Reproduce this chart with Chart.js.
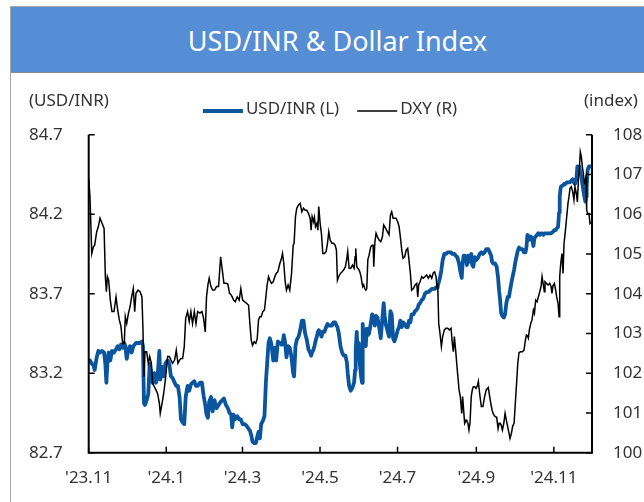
<!DOCTYPE html>
<html>
<head>
<meta charset="utf-8">
<script src="https://cdn.jsdelivr.net/npm/chart.js@4.4.1/dist/chart.umd.min.js"></script>
<style>
  html, body { margin: 0; padding: 0; background: #fff; }
  #frame { position: absolute; left: 10px; top: 6px; width: 634px; height: 496px; border-left: 1px solid #a6a6a6; border-top: 1px solid #a6a6a6; box-sizing: border-box; }
  #title { position: absolute; left: 11px; top: 7px; width: 633px; height: 66px; padding-left: 20px; box-sizing: border-box; background: #558ed5; border-bottom: 1px solid #8c8c8c; color: #fff; font: 27px "Noto Sans", sans-serif; text-align: center; line-height: 68px; }
  canvas { position: absolute; left: 0; top: 0; }
</style>
</head>
<body>
<div id="frame"></div>
<div id="title">USD/INR &amp; Dollar Index</div>
<canvas id="chart" width="644" height="502"></canvas>
<script>
// x positions are days counted from startDate
const startDate = '2023-11-01';
const endDate = '2024-12-01';
const tickDates = ['2023-11-01', '2024-01-01', '2024-03-01', '2024-05-01', '2024-07-01', '2024-09-01', '2024-11-01'];
const tickLabels = ["'23.11", "'24.1", "'24.3", "'24.5", "'24.7", "'24.9", "'24.11"];
const inrTicks = [82.7, 83.2, 83.7, 84.2, 84.7];

const dayOffset = [
  0, 1.0, 2.4, 3.7, 4.7, 6.3, 7.6, 8.9, 10.5, 12.1, 13.1, 13.9, 14.7, 15.7, 17.0, 18.3, 19.9, 21.5, 22.8, 24.1,
  25.4, 26.7, 28.0, 28.8, 29.9, 31.2, 32.5, 33.8, 35.1, 36.2, 37.2, 38.8, 40.4, 41.9, 42.7, 43.5, 44.3, 45.6, 46.9, 48.0,
  49.3, 50.3, 51.6, 52.9, 54.2, 55.6, 56.3, 57.7, 59.0, 60.3, 62.1, 63.4, 64.7, 66.0, 67.6, 68.9, 70.2, 71.5, 72.6, 73.9,
  75.2, 76.3, 77.8, 79.1, 80.4, 81.7, 83.1, 84.4, 85.7, 87.5, 89.1, 90.4, 91.7, 92.7, 93.8, 94.8, 96.2, 97.5, 99.0, 100.6,
  102.2, 103.8, 105.1, 106.4, 108.0, 109.5, 110.8, 112.1, 112.9, 114.0, 115.3, 116.9, 118.4, 119.7, 121.1, 122.6, 124.2, 125.8, 126.8, 127.9,
  128.9, 130.2, 131.5, 132.6, 133.6, 134.7, 135.7, 137.0, 138.3, 139.4, 140.4, 141.5, 142.5, 143.8, 145.2, 146.5, 147.5, 148.8, 150.4, 151.7,
  152.5, 153.5, 154.6, 155.6, 156.9, 158.2, 159.6, 160.9, 161.6, 162.7, 163.7, 165.1, 166.4, 167.7, 169.0, 170.3, 171.6, 172.9, 174.2, 175.0,
  175.8, 176.9, 177.6, 178.4, 179.5, 180.3, 181.0, 182.1, 183.1, 184.2, 185.5, 186.8, 187.9, 188.9, 190.0, 191.3, 192.6, 193.9, 194.9, 195.7,
  196.8, 198.1, 199.4, 200.7, 202.0, 203.1, 203.8, 204.9, 206.2, 207.5, 208.8, 209.6, 210.1, 210.9, 211.7, 212.5, 213.3, 214.3, 215.1, 215.6,
  216.4, 217.2, 218.0, 218.8, 219.6, 220.6, 221.9, 223.0, 223.8, 224.3, 225.1, 226.1, 227.2, 228.5, 229.8, 231.1, 232.1, 232.9, 233.7, 235.0,
  236.3, 237.4, 238.4, 239.5, 240.5, 241.8, 243.1, 244.2, 245.2, 246.3, 247.3, 248.6, 249.9, 251.0, 252.0, 253.1, 254.1, 255.5, 256.8, 258.1,
  258.9, 259.6, 260.7, 262.0, 263.3, 264.6, 265.9, 267.2, 268.6, 269.9, 271.2, 272.2, 273.3, 274.1, 274.6, 275.4, 276.4, 277.5, 278.5, 279.8,
  281.1, 282.4, 283.8, 285.1, 286.1, 286.9, 287.7, 288.7, 290.0, 291.4, 292.4, 293.5, 294.2, 295.0, 295.8, 296.9, 297.6, 298.4, 299.2, 300.0,
  301.0, 301.8, 302.6, 303.7, 304.7, 305.8, 306.6, 307.6, 308.9, 310.2, 311.5, 312.8, 314.4, 315.5, 316.6, 317.4, 318.4, 319.7, 321.0, 322.1,
  322.9, 323.7, 324.5, 325.5, 326.6, 327.6, 328.6, 329.7, 330.7, 331.5, 332.6, 333.6, 334.7, 335.5, 336.5, 337.6, 338.6, 339.9, 341.2, 342.5,
  343.6, 344.4, 345.2, 345.9, 346.7, 347.8, 348.8, 349.9, 350.7, 351.7, 352.8, 353.8, 354.9, 355.9, 356.7, 357.7, 358.5, 359.0, 360.1, 361.4,
  362.7, 363.8, 364.5, 365.3, 366.4, 367.4, 368.2, 369.3, 370.1, 370.6, 371.4, 372.4, 373.2, 374.0, 375.0, 376.1, 377.1, 377.9, 378.7, 379.7,
  380.8, 381.8, 382.6, 383.7, 384.5, 385.3, 386.0, 386.8, 387.6, 388.4, 389.2, 390.0, 390.8, 391.3, 391.8, 392.6, 393.6, 394.4, 395.2
];

const usdInr = [
  83.28, 83.28, 83.26, 83.25, 83.22, 83.30, 83.34, 83.33, 83.34, 83.33, 83.26, 83.14, 83.26, 83.33, 83.28, 83.34, 83.33, 83.35, 83.37, 83.35,
  83.38, 83.36, 83.39, 83.37, 83.29, 83.35, 83.37, 83.33, 83.37, 83.38, 83.39, 83.39, 83.39, 83.40, 83.37, 83.01, 83.00, 83.03, 83.07, 83.26,
  83.19, 83.14, 83.20, 83.14, 83.18, 83.34, 83.16, 83.24, 83.18, 83.26, 83.28, 83.26, 83.18, 83.17, 83.14, 83.12, 83.12, 83.05, 82.91, 82.89,
  82.88, 83.05, 83.12, 83.09, 83.13, 83.14, 83.15, 83.12, 83.12, 83.14, 83.14, 83.06, 83.00, 82.94, 82.92, 83.02, 83.05, 82.96, 83.03, 82.98,
  83.00, 83.02, 83.03, 83.04, 83.00, 82.98, 82.95, 82.94, 82.86, 82.94, 82.91, 82.93, 82.91, 82.91, 82.88, 82.88, 82.87, 82.85, 82.84, 82.81,
  82.77, 82.76, 82.76, 82.80, 82.83, 82.79, 82.88, 82.90, 82.93, 83.14, 83.26, 83.39, 83.42, 83.38, 83.28, 83.36, 83.28, 83.40, 83.39, 83.38,
  83.38, 83.44, 83.39, 83.30, 83.37, 83.36, 83.30, 83.20, 83.18, 83.37, 83.41, 83.43, 83.47, 83.53, 83.53, 83.45, 83.41, 83.35, 83.33, 83.31,
  83.33, 83.35, 83.37, 83.40, 83.43, 83.46, 83.47, 83.46, 83.43, 83.46, 83.46, 83.49, 83.51, 83.50, 83.50, 83.50, 83.52, 83.52, 83.50, 83.49,
  83.45, 83.37, 83.33, 83.31, 83.31, 83.27, 83.20, 83.12, 83.09, 83.11, 83.14, 83.22, 83.35, 83.46, 83.30, 83.39, 83.26, 83.18, 83.14, 83.51,
  83.39, 83.46, 83.37, 83.48, 83.44, 83.45, 83.51, 83.57, 83.56, 83.55, 83.50, 83.56, 83.55, 83.49, 83.42, 83.55, 83.64, 83.56, 83.51, 83.47,
  83.43, 83.59, 83.57, 83.42, 83.40, 83.43, 83.47, 83.49, 83.53, 83.49, 83.52, 83.51, 83.49, 83.49, 83.53, 83.52, 83.57, 83.57, 83.59, 83.60,
  83.61, 83.63, 83.64, 83.66, 83.67, 83.70, 83.71, 83.71, 83.72, 83.73, 83.73, 83.73, 83.74, 83.74, 83.75, 83.77, 83.80, 83.85, 83.91, 83.95,
  83.95, 83.96, 83.96, 83.96, 83.95, 83.95, 83.95, 83.94, 83.93, 83.89, 83.84, 83.80, 83.89, 83.94, 83.94, 83.92, 83.88, 83.94, 83.90, 83.93,
  83.95, 83.88, 83.87, 83.93, 83.91, 83.92, 83.93, 83.95, 83.96, 83.95, 83.96, 83.98, 83.98, 83.96, 83.94, 83.90, 83.89, 83.89, 83.87, 83.80,
  83.72, 83.66, 83.58, 83.56, 83.55, 83.57, 83.64, 83.68, 83.68, 83.72, 83.77, 83.81, 83.85, 83.89, 83.93, 83.97, 83.99, 83.98, 83.98, 83.96,
  83.96, 83.99, 84.07, 84.06, 84.04, 84.06, 84.05, 84.00, 84.05, 84.06, 84.07, 84.08, 84.07, 84.08, 84.08, 84.07, 84.08, 84.08, 84.08, 84.08,
  84.08, 84.08, 84.08, 84.09, 84.10, 84.10, 84.11, 84.12, 84.21, 84.31, 84.37, 84.38, 84.38, 84.39, 84.39, 84.40, 84.40, 84.40, 84.40, 84.41,
  84.42, 84.40, 84.39, 84.42, 84.50, 84.48, 84.50, 84.46, 84.44, 84.39, 84.35, 84.31, 84.28, 84.31, 84.37, 84.48, 84.50, 84.50, 84.50
];

const dxy = [
  106.90, 106.44, 105.01, 105.18, 105.22, 105.56, 105.69, 105.90, 105.77, 105.64, 104.43, 104.05, 104.43, 104.34, 103.84, 103.55, 103.55, 103.92, 103.59, 103.34,
  103.17, 102.75, 102.75, 103.42, 103.25, 103.50, 103.67, 103.92, 104.13, 103.55, 104.01, 104.09, 104.05, 103.92, 103.09, 101.91, 102.54, 102.54, 102.25, 102.42,
  102.25, 101.74, 101.66, 101.58, 101.49, 101.24, 100.99, 101.24, 101.49, 101.83, 102.42, 102.42, 102.33, 102.25, 102.33, 102.58, 102.25, 102.33, 102.37, 102.37,
  102.67, 103.38, 103.55, 103.30, 103.55, 103.25, 103.55, 103.25, 103.55, 103.51, 103.55, 103.38, 103.04, 103.92, 104.22, 104.39, 104.18, 104.09, 104.09, 104.18,
  104.18, 104.93, 104.60, 104.26, 104.26, 104.24, 104.01, 103.97, 103.92, 103.84, 103.80, 103.92, 103.84, 104.13, 103.84, 103.80, 103.76, 103.71, 103.25, 102.83,
  102.70, 102.79, 102.75, 102.87, 103.34, 103.42, 103.42, 103.55, 103.59, 103.92, 104.22, 104.43, 104.34, 104.26, 104.30, 104.43, 104.51, 104.55, 104.76, 104.89,
  105.01, 104.76, 104.30, 104.09, 104.22, 104.09, 104.51, 105.22, 105.27, 105.94, 106.15, 106.23, 106.27, 106.06, 106.15, 106.10, 106.10, 106.02, 105.90, 105.60,
  105.94, 105.81, 105.92, 105.69, 105.77, 105.60, 106.19, 105.77, 105.52, 105.01, 105.01, 105.06, 105.27, 105.56, 105.35, 105.27, 105.27, 105.22, 105.10, 104.34,
  104.44, 104.51, 104.55, 104.60, 104.68, 104.89, 105.06, 104.64, 104.64, 104.72, 104.64, 104.93, 105.14, 104.68, 104.64, 104.61, 104.55, 104.43, 104.26, 104.18,
  104.22, 104.13, 104.09, 104.13, 104.85, 104.97, 105.18, 105.22, 105.22, 104.68, 105.27, 105.52, 105.43, 105.35, 105.31, 105.43, 105.73, 105.69, 105.64, 105.56,
  105.48, 105.98, 106.06, 105.90, 105.90, 105.90, 105.81, 105.69, 105.43, 105.10, 104.89, 104.93, 105.10, 105.14, 104.85, 104.51, 104.09, 104.13, 104.22, 104.26,
  103.92, 104.22, 104.30, 104.43, 104.39, 104.43, 104.47, 104.39, 104.47, 104.39, 104.53, 104.55, 104.43, 104.13, 104.26, 103.25, 103.00, 102.67, 102.92, 103.09,
  103.13, 103.13, 103.09, 103.13, 102.75, 102.54, 102.92, 102.58, 102.08, 101.58, 101.41, 100.99, 101.41, 101.07, 100.74, 100.82, 100.78, 100.74, 100.57, 100.74,
  101.41, 101.58, 101.66, 101.66, 101.62, 101.68, 101.79, 101.49, 101.16, 101.16, 101.41, 101.58, 101.64, 101.41, 101.20, 101.07, 100.97, 100.91, 100.89, 100.61,
  100.74, 100.74, 100.70, 100.57, 100.74, 100.99, 100.82, 100.65, 100.49, 100.36, 100.49, 100.67, 100.74, 101.16, 101.66, 102.25, 102.52, 102.54, 102.54, 102.58,
  102.83, 102.96, 102.94, 102.88, 103.09, 103.25, 103.34, 103.59, 103.51, 103.84, 103.80, 103.92, 104.05, 104.18, 104.43, 104.22, 104.05, 104.30, 104.26, 104.22,
  104.26, 104.18, 104.01, 104.20, 104.26, 104.09, 103.92, 103.76, 103.42, 104.43, 104.76, 105.01, 104.51, 105.27, 105.56, 105.94, 106.27, 106.44, 106.65, 106.69,
  106.57, 106.36, 106.69, 106.52, 106.31, 106.86, 107.11, 107.57, 107.45, 107.19, 107.03, 106.78, 106.86, 106.94, 106.10, 106.02, 106.02, 105.77, 105.80
];

const dayOf = d => (Date.parse(d) - Date.parse(startDate)) / 86400000;
const tickDays = tickDates.map(dayOf);
const FONT = '"Noto Sans", sans-serif';
const TEXT = '#333333';

// frame lines, inward tick marks, unit captions and the legend
const decorations = {
  id: 'decorations',
  afterDraw(chart) {
    const { ctx, chartArea: a, scales } = chart;
    ctx.save();
    ctx.strokeStyle = '#000';
    ctx.lineWidth = 2;
    ctx.beginPath();
    ctx.moveTo(a.left, a.top);
    ctx.lineTo(a.left, a.bottom);
    ctx.lineTo(a.right, a.bottom);
    ctx.lineTo(a.right, a.top);
    ctx.stroke();

    ctx.lineWidth = 1.5;
    ctx.beginPath();
    scales.yL.ticks.forEach(t => {
      const y = scales.yL.getPixelForValue(t.value);
      ctx.moveTo(a.left, y); ctx.lineTo(a.left + 6, y);
    });
    scales.yR.ticks.forEach(t => {
      const y = scales.yR.getPixelForValue(t.value);
      ctx.moveTo(a.right, y); ctx.lineTo(a.right - 6, y);
    });
    scales.x.ticks.forEach(t => {
      const x = scales.x.getPixelForValue(t.value);
      ctx.moveTo(x, a.bottom); ctx.lineTo(x, a.bottom - 6);
    });
    ctx.stroke();

    ctx.font = '17px ' + FONT;
    ctx.fillStyle = TEXT;
    ctx.textBaseline = 'middle';
    ctx.textAlign = 'left';
    ctx.fillText('(USD/INR)', 29, 101);
    ctx.fillText('(index)', 584, 101);

    // legend
    const lineLen = 40, gapText = 3, gapItem = 18, ly = 109;
    const items = chart.data.datasets.map(ds => ({ ds, w: ctx.measureText(ds.label).width }));
    const total = items.reduce((s, it) => s + lineLen + gapText + it.w, 0) + gapItem * (items.length - 1);
    let x = 330 - total / 2;
    items.forEach(it => {
      ctx.strokeStyle = it.ds.borderColor;
      ctx.lineWidth = it.ds.borderWidth;
      ctx.beginPath();
      ctx.moveTo(x, ly + 2); ctx.lineTo(x + lineLen, ly + 2);
      ctx.stroke();
      x += lineLen + gapText;
      ctx.fillText(it.ds.label, x, ly);
      x += it.w + gapItem;
    });
    ctx.restore();
  }
};

new Chart(document.getElementById('chart'), {
  type: 'line',
  data: {
    datasets: [
      {
        label: 'USD/INR (L)',
        data: dayOffset.map((d, i) => ({ x: d, y: usdInr[i] })),
        yAxisID: 'yL',
        borderColor: '#0a55a0',
        borderWidth: 3.8,
        borderJoinStyle: 'round',
        pointRadius: 0,
        tension: 0,
        order: 2
      },
      {
        label: 'DXY (R)',
        data: dayOffset.map((d, i) => ({ x: d, y: dxy[i] })),
        yAxisID: 'yR',
        borderColor: '#000000',
        borderWidth: 1.5,
        pointRadius: 0,
        tension: 0,
        order: 1
      }
    ]
  },
  options: {
    responsive: false,
    animation: false,
    devicePixelRatio: 1,
    layout: { padding: { top: 134.7, left: 0, right: 0, bottom: 0 } },
    plugins: { legend: { display: false }, tooltip: { enabled: false } },
    scales: {
      x: {
        type: 'linear',
        min: 0,
        max: dayOf(endDate),
        grid: { display: false, drawTicks: false },
        border: { display: false },
        afterBuildTicks: scale => { scale.ticks = tickDays.map(v => ({ value: v })); },
        afterFit: scale => { scale.height = 49.3; },
        ticks: {
          autoSkip: false,
          maxRotation: 0,
          padding: 15,
          color: TEXT,
          font: { family: FONT, size: 17 },
          callback: (v, i) => tickLabels[i]
        }
      },
      yL: {
        position: 'left',
        min: 82.7,
        max: 84.7,
        grid: { display: false, drawTicks: false },
        border: { display: false },
        afterBuildTicks: scale => { scale.ticks = inrTicks.map(v => ({ value: v })); },
        afterFit: scale => { scale.width = 88.7; },
        ticks: {
          padding: 26,
          color: TEXT,
          font: { family: FONT, size: 17 },
          callback: v => v.toFixed(1)
        }
      },
      yR: {
        position: 'right',
        min: 100,
        max: 108,
        grid: { display: false, drawTicks: false },
        border: { display: false },
        afterFit: scale => { scale.width = 52; },
        ticks: {
          stepSize: 1,
          padding: 21,
          color: TEXT,
          font: { family: FONT, size: 17 }
        }
      }
    }
  },
  plugins: [decorations]
});
</script>
</body>
</html>
